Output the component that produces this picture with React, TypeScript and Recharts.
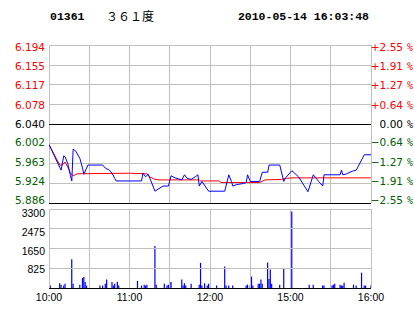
import { LineChart, Line, XAxis, YAxis, ReferenceLine, ComposedChart, Bar } from 'recharts';

const stockCode = '01361';
const stockName = '３６１度';
const stamp = '2010-05-14 16:03:48';

const prevClose = 6.04;
const priceTicks = [5.886, 5.924, 5.963, 6.002, 6.04, 6.078, 6.117, 6.155, 6.194];
const pctLabels = ['−2.55', '−1.91', '−1.27', '−0.64', '0.00', '+0.64', '+1.27', '+1.91', '+2.55'];
const volTicks = [825, 1650, 2475, 3300];
const timeTicks = [0, 60, 120, 180, 240];
const timeLabels = ['10:00', '11:00', '12:00', '15:00', '16:00'];
const gridMinutes = [0, 30, 60, 90, 120, 150, 180, 210, 240];

// minutes since 10:00 (lunch break removed), last price
const priceMinutes = [0, 9, 11, 12, 14, 16, 17, 18, 20, 23, 25, 26, 28, 29, 40, 42, 45, 47, 49, 50, 69, 70, 72, 74, 79, 85, 89, 91, 94, 99, 101, 103, 106, 109, 111, 112, 114, 119, 131, 134, 136, 137, 140, 145, 147, 148, 150, 157, 159, 163, 164, 172, 175, 176, 181, 186, 193, 197, 201, 204, 205, 217, 218, 219, 221, 226, 229, 233, 235, 240];
const priceValues = [6.0, 5.95, 5.978, 5.976, 5.963, 5.939, 5.929, 5.991, 5.987, 5.973, 5.954, 5.942, 5.954, 5.96, 5.96, 5.954, 5.95, 5.944, 5.934, 5.929, 5.929, 5.944, 5.937, 5.942, 5.909, 5.919, 5.919, 5.939, 5.935, 5.931, 5.941, 5.934, 5.932, 5.937, 5.941, 5.919, 5.928, 5.909, 5.909, 5.941, 5.928, 5.919, 5.922, 5.924, 5.926, 5.941, 5.928, 5.928, 5.946, 5.946, 5.96, 5.96, 5.928, 5.934, 5.949, 5.937, 5.908, 5.941, 5.928, 5.919, 5.941, 5.941, 5.95, 5.941, 5.942, 5.948, 5.95, 5.97, 5.98, 5.98];

// average price
const avgMinutes = [0, 8, 10, 12, 14, 16, 18, 21, 60, 73, 75, 79, 82, 112, 113, 127, 128, 157, 161, 173, 177, 181, 240];
const avgValues = [6.0, 5.96, 5.96, 5.966, 5.956, 5.944, 5.939, 5.943, 5.944, 5.943, 5.937, 5.932, 5.931, 5.931, 5.929, 5.929, 5.926, 5.926, 5.931, 5.932, 5.934, 5.935, 5.935];

// volume per minute
const volMinutes = [1, 8, 9, 11, 12, 17, 18, 23, 25, 26, 27, 28, 38, 40, 42, 43, 47, 48, 49, 51, 52, 66, 69, 71, 72, 73, 79, 80, 86, 88, 89, 90, 91, 99, 100, 101, 102, 106, 112, 113, 114, 116, 118, 119, 125, 131, 132, 134, 137, 147, 148, 150, 151, 152, 156, 157, 158, 159, 163, 164, 165, 166, 172, 175, 181, 194, 197, 204, 205, 211, 212, 213, 217, 218, 219, 220, 227, 229, 233, 235, 236, 240];
const volValues = [100, 200, 140, 100, 180, 1200, 180, 140, 420, 460, 250, 100, 100, 100, 180, 350, 250, 100, 180, 260, 100, 300, 100, 140, 100, 140, 1750, 140, 180, 100, 140, 250, 250, 350, 100, 200, 100, 180, 140, 1050, 100, 200, 100, 180, 100, 900, 100, 100, 100, 100, 140, 100, 480, 100, 180, 180, 350, 180, 1070, 380, 770, 180, 140, 800, 3200, 140, 140, 100, 100, 100, 140, 180, 140, 100, 100, 220, 140, 100, 640, 100, 100, 100];

const priceData = priceMinutes.map((m, i) => ({ m, p: priceValues[i] }));
const avgData = avgMinutes.map((m, i) => ({ m, p: avgValues[i] }));
const volData = volMinutes.map((m, i) => ({ m, v: volValues[i] }));

const RED = '#ff0000';
const GREEN = '#006000';
const GRID = '#c0c0c0';

const colorFor = (v: number) => (v > prevClose + 1e-6 ? RED : v < prevClose - 1e-6 ? GREEN : '#000000');

// labels sit a little closer together than the grid lines: bottom ones move up, top ones down
const squeeze = (index: number) => (index - 4) * 0.6 - 0.4;

const PriceTick = (props: any) => {
  const { x, y, payload, index } = props;
  return (
    <text x={x} y={y + squeeze(index)} dy={4} textAnchor="end" fill={colorFor(payload.value)} fontSize={10.5} fontFamily="DejaVu Sans">
      {payload.value.toFixed(3)}
    </text>
  );
};

const PctTick = (props: any) => {
  const { x, y, payload, index } = props;
  const c = colorFor(payload.value);
  const ty = y + squeeze(index);
  return (
    <g>
      <text x={x + 31} y={ty} dy={4} textAnchor="end" fill={c} fontSize={10.5} fontFamily="DejaVu Sans">
        {pctLabels[index]}
      </text>
      <text x={x + 35} y={ty} dy={4} fill={c} fontSize={10} fontFamily="DejaVu Sans Mono">
        %
      </text>
    </g>
  );
};

const VolTick = (props: any) => {
  const { x, y, payload, index } = props;
  return (
    <text x={x} y={y + index + 1} dy={4} textAnchor="end" fill="#000" fontSize={10.5} fontFamily="Liberation Sans">
      {payload.value}
    </text>
  );
};

function PriceChart() {
  return (
    <LineChart width={414} height={212} margin={{ top: 45, right: 0, bottom: 9, left: 0 }}>
      <XAxis dataKey="m" type="number" domain={[0, 240]} hide allowDataOverflow />
      <YAxis
        yAxisId="l"
        orientation="left"
        width={49}
        domain={[5.886, 6.194]}
        ticks={priceTicks}
        interval={0}
        axisLine={false}
        tickLine={false}
        tickSize={0}
        tickMargin={4}
        tick={(p: any) => <PriceTick {...p} />}
        allowDataOverflow
      />
      <YAxis
        yAxisId="r"
        orientation="right"
        width={43}
        domain={[5.886, 6.194]}
        ticks={priceTicks}
        interval={0}
        axisLine={false}
        tickLine={false}
        tickSize={0}
        tickMargin={1}
        tick={(p: any) => <PctTick {...p} />}
        allowDataOverflow
      />
      {gridMinutes.map((g) => (
        <ReferenceLine key={'v' + g} yAxisId="l" x={g} stroke={GRID} shapeRendering="crispEdges" />
      ))}
      {priceTicks.map((t, i) => (
        <ReferenceLine
          key={'h' + t}
          yAxisId="l"
          y={t}
          stroke={i === 0 || t === prevClose ? '#000' : GRID}
          shapeRendering="crispEdges"
        />
      ))}
      <Line yAxisId="l" data={avgData} dataKey="p" type="linear" stroke={RED} strokeWidth={1} dot={false} isAnimationActive={false} />
      <Line yAxisId="l" data={priceData} dataKey="p" type="linear" stroke="#0000ff" strokeWidth={1} dot={false} isAnimationActive={false} />
    </LineChart>
  );
}

function VolumeChart() {
  return (
    <ComposedChart width={414} height={108} data={volData} margin={{ top: 3, right: 43, bottom: 0, left: 0 }}>
      <XAxis
        dataKey="m"
        type="number"
        domain={[0, 240]}
        ticks={timeTicks}
        interval={0}
        height={26}
        axisLine={false}
        tickLine={false}
        tickSize={0}
        tickMargin={6}
        tickFormatter={(v: number) => timeLabels[timeTicks.indexOf(v)]}
        tick={{ fontSize: 10.5, fill: '#000', fontFamily: 'Liberation Sans' }}
        allowDataOverflow
      />
      <YAxis
        width={49}
        domain={[0, 3300]}
        ticks={volTicks}
        interval={0}
        axisLine={false}
        tickLine={false}
        tickSize={0}
        tickMargin={4}
        tick={(p: any) => <VolTick {...p} />}
        allowDataOverflow
      />
      {gridMinutes.map((g) => (
        <ReferenceLine key={'v' + g} x={g} stroke={GRID} shapeRendering="crispEdges" />
      ))}
      {volTicks.map((t) => (
        <ReferenceLine key={'h' + t} y={t} stroke={GRID} shapeRendering="crispEdges" />
      ))}
      <Bar dataKey="v" fill="#0000ff" barSize={2} isAnimationActive={false} />
      <ReferenceLine y={0} stroke="#000" shapeRendering="crispEdges" />
    </ComposedChart>
  );
}

export default function App() {
  return (
    <div style={{ position: 'absolute', left: 0, top: 0, width: 414, height: 314, background: '#fff' }}>
      <svg width={414} height={30} style={{ position: 'absolute', left: 0, top: 0 }}>
        <text x={50} y={20} fontSize={11.5} fontWeight="bold" fontFamily="Liberation Mono" fill="#000">
          {stockCode}
        </text>
        <text x={106} y={21} fontSize={12} fontFamily="Noto Sans CJK SC" fill="#000">
          {stockName}
        </text>
        <text x={369} y={20} textAnchor="end" fontSize={11.5} fontWeight="bold" fontFamily="Liberation Mono" fill="#000">
          {stamp}
        </text>
      </svg>
      <div style={{ position: 'absolute', left: 0, top: 206 }}>
        <VolumeChart />
      </div>
      <div style={{ position: 'absolute', left: 0, top: 0 }}>
        <PriceChart />
      </div>
    </div>
  );
}
